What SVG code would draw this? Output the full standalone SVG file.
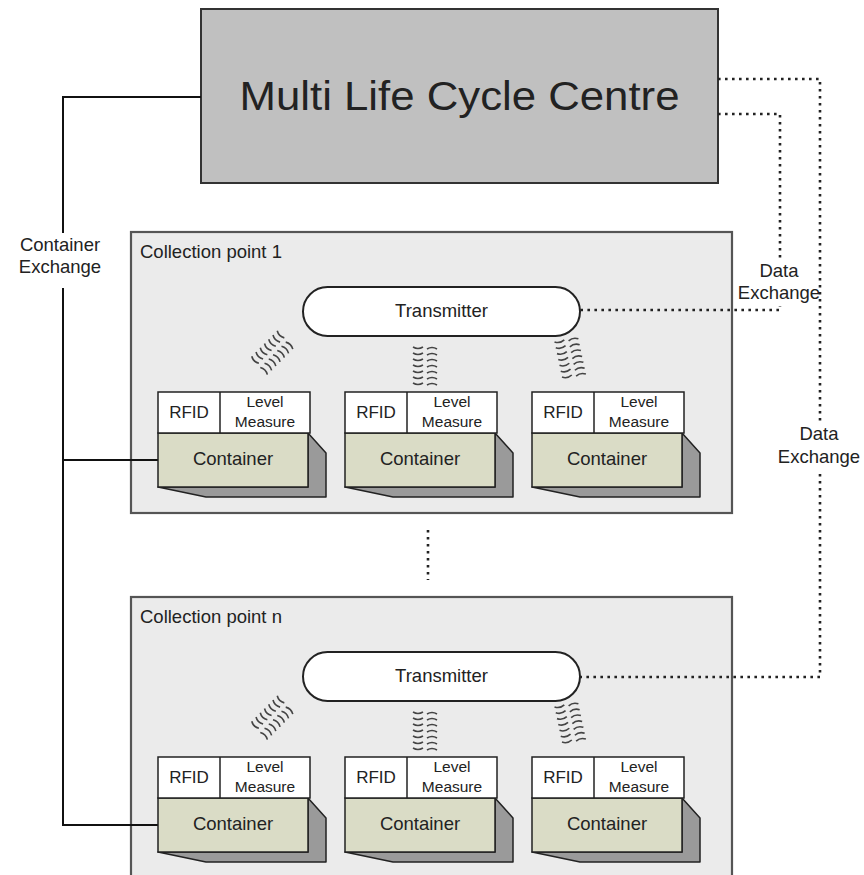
<svg xmlns="http://www.w3.org/2000/svg" width="864" height="875" viewBox="0 0 864 875">
<style>
text{font-family:"Liberation Sans",Arial,sans-serif;fill:#222}
.lbl{font-size:18.5px}
.mid{text-anchor:middle}
.cp{fill:#ebebeb;stroke:#555;stroke-width:2.2}
.tx{fill:#fff;stroke:#222;stroke-width:2}
.top{fill:#fff;stroke:#222;stroke-width:1.5}
.grn{fill:#dadcc6;stroke:#222;stroke-width:1.5}
.shd{fill:#9a9a9a;stroke:#222;stroke-width:1.5;stroke-linejoin:round}
.solid{fill:none;stroke:#111;stroke-width:2}
.dot{fill:none;stroke:#222;stroke-width:2.6;stroke-dasharray:2.6 4.4}
.wv{fill:none;stroke:#444;stroke-width:1.6}
.bg{fill:#fff}
</style>
<defs>
<g id="waves">
<path class="wv" d="M-12 -18q5 3 10 0M-12 -12q5 3 10 0M-12 -6q5 3 10 0M-12 0q5 3 10 0M-12 6q5 3 10 0M-12 12q5 3 10 0M-12 18q5 3 10 0"/>
<path class="wv" d="M2 -16q5 -3 10 0M2 -10q5 -3 10 0M2 -4q5 -3 10 0M2 2q5 -3 10 0M2 8q5 -3 10 0M2 14q5 -3 10 0M2 20q5 -3 10 0"/>
</g>
</defs>

<g id="mlcc">
<rect x="201" y="9" width="517" height="174" fill="#c0c0c0" stroke="#333" stroke-width="2"/>
<text x="459.5" y="110" class="mid" font-size="40" textLength="440" lengthAdjust="spacingAndGlyphs">Multi Life Cycle Centre</text>
</g>

<g id="cp1">
<rect class="cp" x="131" y="232" width="601" height="281"/>
<text x="140" y="258" class="lbl">Collection point 1</text>
</g>
<g id="cpn">
<rect class="cp" x="131" y="597" width="601" height="290"/>
<text x="140" y="623" class="lbl">Collection point n</text>
</g>

<g id="connectors">
<path class="solid" d="M201 97H63V825H158M63 460H158"/>
<path class="dot" d="M718 79H820V677H580"/>
<path class="dot" d="M718 114H780V310H580"/>
<path class="dot" d="M428 530V580"/>
<rect class="bg" x="15" y="233" width="94" height="55"/>
<text x="60" y="251" class="lbl mid">Container</text>
<text x="60" y="273" class="lbl mid">Exchange</text>
<rect class="bg" x="734" y="258" width="78" height="48"/>
<text x="779" y="277" class="lbl mid">Data</text>
<text x="779" y="299" class="lbl mid">Exchange</text>
<rect class="bg" x="774" y="423" width="90" height="48"/>
<text x="819" y="440" class="lbl mid">Data</text>
<text x="819" y="463" class="lbl mid">Exchange</text>
</g>

<g id="tx1">
<rect class="tx" x="303" y="287" width="277" height="49" rx="24.5"/>
<text x="441.5" y="317" class="lbl mid">Transmitter</text>
</g>
<g id="txn">
<rect class="tx" x="303" y="652" width="277" height="49" rx="24.5"/>
<text x="441.5" y="682" class="lbl mid">Transmitter</text>
</g>

<g id="waves1">
<use href="#waves" transform="translate(273,352) rotate(45)"/>
<use href="#waves" transform="translate(425,365)"/>
<use href="#waves" transform="translate(570,357) rotate(-12)"/>
</g>
<g id="wavesn">
<use href="#waves" transform="translate(273,717) rotate(45)"/>
<use href="#waves" transform="translate(425,730)"/>
<use href="#waves" transform="translate(570,722) rotate(-12)"/>
</g>

<g id="unit1-1" transform="translate(158,392)">
<polygon class="shd" points="150,41 168,61 168,105 48,105 0,95 150,95"/>
<rect class="grn" x="0" y="41" width="150" height="54"/>
<rect class="top" x="0" y="0" width="152" height="41"/>
<line x1="62" y1="0" x2="62" y2="41" stroke="#222" stroke-width="1.5"/>
<text x="31" y="26" class="mid" font-size="17">RFID</text>
<text x="107" y="15" class="mid" font-size="15.5">Level</text>
<text x="107" y="35" class="mid" font-size="15.5">Measure</text>
<text x="75" y="73" class="lbl mid">Container</text>
</g>
<g id="unit1-2" transform="translate(345,392)">
<polygon class="shd" points="150,41 168,61 168,105 48,105 0,95 150,95"/>
<rect class="grn" x="0" y="41" width="150" height="54"/>
<rect class="top" x="0" y="0" width="152" height="41"/>
<line x1="62" y1="0" x2="62" y2="41" stroke="#222" stroke-width="1.5"/>
<text x="31" y="26" class="mid" font-size="17">RFID</text>
<text x="107" y="15" class="mid" font-size="15.5">Level</text>
<text x="107" y="35" class="mid" font-size="15.5">Measure</text>
<text x="75" y="73" class="lbl mid">Container</text>
</g>
<g id="unit1-3" transform="translate(532,392)">
<polygon class="shd" points="150,41 168,61 168,105 48,105 0,95 150,95"/>
<rect class="grn" x="0" y="41" width="150" height="54"/>
<rect class="top" x="0" y="0" width="152" height="41"/>
<line x1="62" y1="0" x2="62" y2="41" stroke="#222" stroke-width="1.5"/>
<text x="31" y="26" class="mid" font-size="17">RFID</text>
<text x="107" y="15" class="mid" font-size="15.5">Level</text>
<text x="107" y="35" class="mid" font-size="15.5">Measure</text>
<text x="75" y="73" class="lbl mid">Container</text>
</g>
<g id="unitn-1" transform="translate(158,757)">
<polygon class="shd" points="150,41 168,61 168,105 48,105 0,95 150,95"/>
<rect class="grn" x="0" y="41" width="150" height="54"/>
<rect class="top" x="0" y="0" width="152" height="41"/>
<line x1="62" y1="0" x2="62" y2="41" stroke="#222" stroke-width="1.5"/>
<text x="31" y="26" class="mid" font-size="17">RFID</text>
<text x="107" y="15" class="mid" font-size="15.5">Level</text>
<text x="107" y="35" class="mid" font-size="15.5">Measure</text>
<text x="75" y="73" class="lbl mid">Container</text>
</g>
<g id="unitn-2" transform="translate(345,757)">
<polygon class="shd" points="150,41 168,61 168,105 48,105 0,95 150,95"/>
<rect class="grn" x="0" y="41" width="150" height="54"/>
<rect class="top" x="0" y="0" width="152" height="41"/>
<line x1="62" y1="0" x2="62" y2="41" stroke="#222" stroke-width="1.5"/>
<text x="31" y="26" class="mid" font-size="17">RFID</text>
<text x="107" y="15" class="mid" font-size="15.5">Level</text>
<text x="107" y="35" class="mid" font-size="15.5">Measure</text>
<text x="75" y="73" class="lbl mid">Container</text>
</g>
<g id="unitn-3" transform="translate(532,757)">
<polygon class="shd" points="150,41 168,61 168,105 48,105 0,95 150,95"/>
<rect class="grn" x="0" y="41" width="150" height="54"/>
<rect class="top" x="0" y="0" width="152" height="41"/>
<line x1="62" y1="0" x2="62" y2="41" stroke="#222" stroke-width="1.5"/>
<text x="31" y="26" class="mid" font-size="17">RFID</text>
<text x="107" y="15" class="mid" font-size="15.5">Level</text>
<text x="107" y="35" class="mid" font-size="15.5">Measure</text>
<text x="75" y="73" class="lbl mid">Container</text>
</g>
</svg>
